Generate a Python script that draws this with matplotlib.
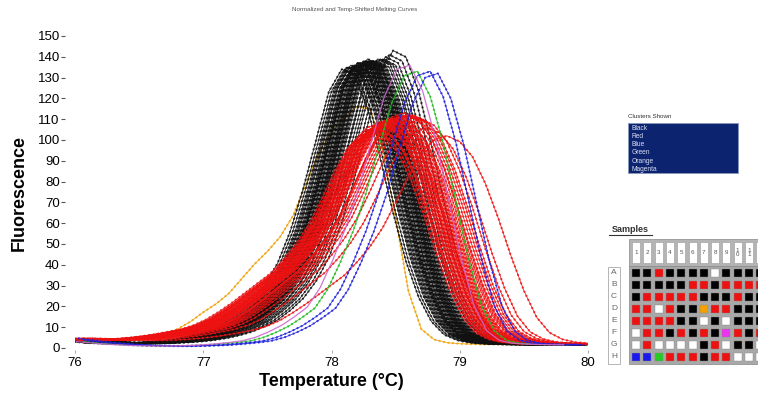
"""
plot.py - melt peak curves per cluster with the plate layout beside them
"""
import numpy as np
import matplotlib
matplotlib.use("Agg")
import matplotlib.pyplot as plt
from matplotlib.patches import Rectangle

plt.rcParams['font.family'] = ['Liberation Sans', 'DejaVu Sans']

# temperature grid of the template curves (deg C)
temps = [76.0 + 0.1 * i for i in range(41)]

# template shapes, one per curve family
sharp_curve = [4.0, 3.5, 3.0, 2.5, 2.3, 2.2, 2.3, 2.6, 3.0, 3.6,
               4.5, 5.8, 7.5, 10, 13, 17.5, 23, 31, 42, 58,
               79, 103, 127, 138, 135, 119, 94, 67, 43, 25,
               13, 6.5, 3.8, 2.6, 2.1, 1.9, 1.8, 1.7, 1.7, 1.6, 1.6]
sharp_tm = 78.3
broad_curve = [4.5, 4.2, 4.0, 4.0, 4.2, 4.6, 5.2, 6.0, 7.0, 8.2,
               9.5, 11.5, 14.5, 18.5, 23, 28, 33, 38, 45, 53,
               63, 76, 90, 102, 109, 111, 108, 100, 86, 68,
               48, 30, 16, 8, 4.5, 3.0, 2.4, 2.1, 2.0, 1.9, 1.9]
broad_tm = 78.5
late_curve = [4.5, 3.8, 3.0, 2.4, 1.9, 1.5, 1.2, 1.0, 0.9, 0.9,
              1.0, 1.2, 1.5, 2.0, 2.6, 3.4, 5, 7.5, 10.5, 14.5,
              19, 28, 41, 56, 74, 96, 117, 130, 132, 120,
              98, 70, 42, 20, 8, 3.5, 2.2, 1.8, 1.6, 1.5, 1.5]
late_tm = 78.75
early_curve = [4.5, 4.0, 3.6, 3.4, 3.6, 4.0, 5.0, 6.5, 9.0, 12.5,
               17, 21, 26, 33, 40, 46, 53, 63, 78, 93,
               103, 110, 115, 114, 95, 62, 27, 9, 4, 2.5,
               2.0, 1.8, 1.7, 1.7, 1.6, 1.6, 1.6, 1.6, 1.6, 1.6, 1.6]
early_tm = 78.25

# plate layout, K black R red B blue G green O orange M magenta W empty
rows = list("ABCDEFGH")
plate = ["KKRKKKKWKKKK",
         "KKKKKRRKRRRR",
         "KRRRRRKKKRKK",
         "RRWRKKORRKKK",
         "RRRRKKWKWKKK",
         "WRRKRKRKMRKR",
         "WRWWWWKRWKKW",
         "BBGRRRKRRWWW"]

# melt temperature and peak height of every sample, in plate order
black_tm = [78.22, 78.18, 78.25, 78.30, 78.12, 78.28, 78.20, 78.35, 78.15, 78.26,
            78.10, 78.24, 78.32, 78.19, 78.48, 78.27, 78.21, 78.14, 78.38, 78.29,
            78.23, 78.17, 78.33, 78.08, 78.26, 78.42, 78.20, 78.30, 78.13, 78.25,
            78.36, 78.18, 78.45, 78.22, 78.28, 78.16, 78.31, 78.24, 78.40, 78.19, 78.27]
black_peak = [137, 136, 138, 137, 135, 139, 137, 138, 136, 138,
              134, 137, 138, 136, 143, 138, 137, 135, 139, 138,
              137, 136, 138, 134, 137, 140, 137, 138, 135, 137,
              139, 136, 141, 137, 138, 135, 138, 137, 139, 136, 137]
red_tm = [78.45, 78.38, 78.52, 78.41, 78.60, 78.35, 78.48, 78.55, 78.43, 78.66,
          78.37, 78.50, 78.46, 78.58, 78.32, 78.44, 78.70, 78.40, 78.53, 78.47,
          78.62, 78.36, 78.49, 78.42, 78.56, 78.90, 78.39, 78.51, 78.45, 78.64,
          78.34, 78.47, 78.57, 78.43, 78.75]
red_peak = [110, 108, 111, 107, 112, 106, 110, 109, 108, 111,
            105, 110, 109, 112, 104, 108, 110, 107, 111, 109,
            112, 105, 110, 108, 111, 102, 107, 110, 109, 112,
            104, 108, 113, 107, 106]
blue_tm, blue_peak = [78.72, 78.78], [133, 132]
green_tm, green_peak = [78.62], [133]
orange_tm, orange_peak = [78.25], [116]
magenta_tm, magenta_peak = [78.56], [136]

cluster_names = ["Black", "Red", "Blue", "Green", "Orange", "Magenta"]

# code -> (template, template Tm, Tms, peaks, line colour, well colour, beads)
# dict order is also the drawing order
clusters = {
    "O": (early_curve, early_tm, orange_tm, orange_peak, "#f0a000", "#f5a000", True),
    "K": (sharp_curve, sharp_tm, black_tm, black_peak, "#111111", "#000000", True),
    "R": (broad_curve, broad_tm, red_tm, red_peak, "#ee1111", "#ee1111", True),
    "G": (late_curve, late_tm, green_tm, green_peak, "#22bb22", "#22cc22", True),
    "B": (late_curve, late_tm, blue_tm, blue_peak, "#2222dd", "#1a1aee", True),
    "M": (late_curve, late_tm, magenta_tm, magenta_peak, "#cc66cc", "#ee33ee", False),
}

W, H = 758, 396
fig = plt.figure(figsize=(W / 100, H / 100), dpi=100)
ax = fig.add_axes([75 / W, (H - 350) / H, 513 / W, 314 / H])

t = np.array(temps)
for code, (curve, ref_tm, tms, peaks, lc, wc, beads) in clusters.items():
    curve = np.array(curve)
    for tm, pk in zip(tms, peaks):
        x = t + (tm - ref_tm)
        y = curve * pk / curve.max()
        keep = (x >= 76.0) & (x <= 80.0)
        ax.plot(x[keep], y[keep], color=lc, lw=0.6 if beads else 0.9, alpha=0.9)
        if beads:
            # round dash caps give the bead look of the sampled points
            ax.plot(x[keep], y[keep], color=lc, lw=1.7, alpha=0.8,
                    linestyle=(0, (0.01, 1.9)), dash_capstyle="round")

ax.set_xlim(76, 80)
ax.set_ylim(-1, 150)
ax.spines["left"].set_position(("outward", 7))
for s in ax.spines.values():
    s.set_visible(False)
ax.set_xticks([76, 77, 78, 79, 80])
ax.set_yticks(range(0, 151, 10))
ax.tick_params(axis="y", length=3, width=0.8, color="#555", labelsize=9.5, pad=1)
ax.tick_params(axis="x", length=2, width=0.6, color="#999", labelsize=9.5, pad=3)
ax.set_xlabel("Temperature (\u00b0C)", fontsize=13, fontweight="bold", labelpad=3)
ax.set_ylabel("Fluorescence", fontsize=13, fontweight="bold", labelpad=7)
fig.text(355 / W, 1 - 10 / H, "Normalized and Temp-Shifted Melting Curves",
         ha="center", va="center", fontsize=4.5, color="#555")

# right hand panels, drawn in pixel coordinates
ov = fig.add_axes([0, 0, 1, 1])
ov.set_xlim(0, W)
ov.set_ylim(H, 0)
ov.axis("off")
ov.patch.set_alpha(0)

ov.text(628, 116, "Clusters Shown", fontsize=4.5, color="#333", va="center")
ov.add_patch(Rectangle((628, 123), 110, 50, fc="#0c2470", ec="#8899bb", lw=0.6))
for i, name in enumerate(cluster_names):
    ov.text(632, 128 + 8.3 * i, name, fontsize=4.8, color="#d8def0", va="center")

ov.text(612, 229, "Samples", fontsize=6.5, fontweight="bold", color="#333", va="center")
ov.plot([609, 652], [235, 235], color="#333", lw=0.8)

ncol = len(plate[0])
pitch_x, pitch_y = 11.3, 12.0
ov.add_patch(Rectangle((629, 239), 140, 27, fc="#b4b4b4", ec="#888", lw=0.5))
for c in range(ncol):
    cx = 636 + c * pitch_x
    ov.add_patch(Rectangle((cx - 4, 242), 8, 21, fc="white", ec="#999", lw=0.4))
    ov.text(cx, 252.5, "\n".join(str(c + 1)), fontsize=4.5, color="#555",
            ha="center", va="center", linespacing=1.0)

ov.add_patch(Rectangle((608, 267), 12, 97, fc="white", ec="#999", lw=0.5))
ov.add_patch(Rectangle((629, 266), 140, 98, fc="#a8a8a8", ec="#888", lw=0.5))
well_colours = {c: v[5] for c, v in clusters.items()}
well_colours["W"] = "#ffffff"
for r, row in enumerate(plate):
    cy = 273 + r * pitch_y
    ov.text(614, cy, rows[r], fontsize=6, color="#666", ha="center", va="center")
    for c, code in enumerate(row):
        cx = 636 + c * pitch_x
        ov.add_patch(Rectangle((cx - 4, cy - 4), 8, 8, fc=well_colours[code],
                               ec="#888", lw=0.3))

fig.savefig("out.png", dpi=100)
